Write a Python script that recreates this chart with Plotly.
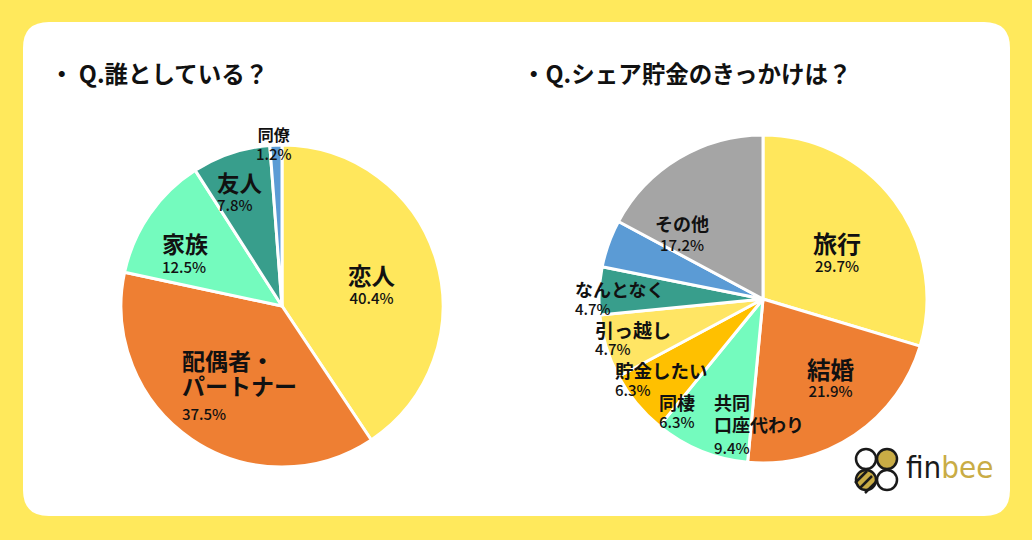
import math
import plotly.graph_objects as go

W, H = 1032, 540

# ---- data: 誰としている？
who_labels = ["恋人", "配偶者・<br>パートナー", "家族", "友人", "同僚"]
who_values = [40.4, 37.5, 12.5, 7.8, 1.2]

# ---- data: シェア貯金のきっかけは？
why_labels = ["旅行", "結婚", "共同<br>口座代わり", "同棲", "貯金したい",
              "引っ越し", "なんとなく", "その他"]
why_values = [29.7, 21.9, 9.4, 6.3, 6.3, 4.7, 4.7, 17.2]

# ---- style
BG = "#FFE95C"
FONT = "Noto Sans CJK JP"

who_colors = ["#FFE75C", "#EE7F33", "#74FBBE", "#389E8C", "#5B9BD5"]
who_lsize = [23.5, 23, 23, 22.5, 16]
who_psize = [15, 15, 15, 15, 15]
who_gap = [24, 25, 24, 23, 20]                   # line spacing, px
who_nudge = [4.9, 13.1, -12.1, -12.4, -0.6]      # degrees off slice middle
who_rfrac = [0.57, 0.86, 0.82, 0.81, 1.0]
who_anchor = ["center", "left", "left", "left", "center"]

why_colors = ["#FFE75C", "#EE7F33", "#74FBBE", "#FFC000", "#FFE564",
              "#389E8C", "#5B9BD5", "#A5A5A5"]
why_lsize = [24, 23.5, 18, 18, 18.5, 19, 18, 18]
why_psize = [15, 15, 15, 15, 15, 15, 15, 15]
why_gap = [24, 23, 22, 20, 20, 19, 20, 22]
why_nudge = [5.9, -5.7, -2.0, -7.6, -12.1, -16.5, -20.1, -21.2]
why_rfrac = [0.525, 0.65, 0.897, 0.949, 1.045, 1.066, 1.159, 0.626]
why_anchor = ["center", "center", "left", "left", "left", "left", "left", "center"]


def px(x):
    return x / W


def py(y):
    return 1 - y / H


def add_pie(fig, labels, values, colors, cx, cy, R, nudge, rfrac, anchor, lsize, psize, gap):
    fig.add_trace(go.Pie(
        labels=[l.replace("<br>", "") for l in labels],
        values=values,
        sort=False,
        direction="clockwise",
        rotation=0,
        marker=dict(colors=colors, line=dict(color="white", width=3)),
        textinfo="none",
        hovertemplate="%{label}<extra></extra>",
        showlegend=False,
        domain=dict(x=[px(cx - R), px(cx + R)], y=[py(cy + R), py(cy - R)]),
    ))
    total = sum(values)
    cum = 0
    for i, v in enumerate(values):
        mid = math.radians((cum + v / 2) / total * 360 + nudge[i])
        cum += v
        r = rfrac[i] * R
        x = cx + r * math.sin(mid)
        y = cy - r * math.cos(mid)
        # (x, y) is the seam between name and percentage
        lines = labels[i].split("<br>")
        nl = len(lines) + 1
        step = gap[i]
        if nl == 2:
            # big name glyphs sit higher over the baseline than the digits
            step = gap[i] - 0.55 * (lsize[i] - psize[i])
        yc = y - (nl - 2) / 2 * gap[i]
        name = "<br>".join("<span style='font-size:%spx'><b>%s</b></span>" % (lsize[i], s)
                           for s in lines)
        pct = "<span style='font-size:%spx'>%s%%</span>" % (psize[i], v)
        fig.add_annotation(x=px(x), y=py(yc), xref="paper", yref="paper",
                           text=name + "<br>" + pct, showarrow=False,
                           xanchor=anchor[i], yanchor="middle", align=anchor[i],
                           yshift=0.22 * lsize[i] - 1,
                           font=dict(family=FONT, size=step / 1.3, color="#111",
                                     weight=500))


def rounded_rect(x0, y0, x1, y1, rad):
    # path in paper coords, corners drawn with quadratic curves
    pts = [
        "M %f,%f" % (px(x0 + rad), py(y0)),
        "L %f,%f" % (px(x1 - rad), py(y0)),
        "Q %f,%f %f,%f" % (px(x1), py(y0), px(x1), py(y0 + rad)),
        "L %f,%f" % (px(x1), py(y1 - rad)),
        "Q %f,%f %f,%f" % (px(x1), py(y1), px(x1 - rad), py(y1)),
        "L %f,%f" % (px(x0 + rad), py(y1)),
        "Q %f,%f %f,%f" % (px(x0), py(y1), px(x0), py(y1 - rad)),
        "L %f,%f" % (px(x0), py(y0 + rad)),
        "Q %f,%f %f,%f" % (px(x0), py(y0), px(x0 + rad), py(y0)),
        "Z",
    ]
    return " ".join(pts)


fig = go.Figure()

fig.add_shape(type="path", path=rounded_rect(23, 22, 1010, 516, 26),
              xref="paper", yref="paper", fillcolor="white", line=dict(width=0),
              layer="below")

add_pie(fig, who_labels, who_values, who_colors, 282, 306, 161,
        who_nudge, who_rfrac, who_anchor, who_lsize, who_psize, who_gap)
add_pie(fig, why_labels, why_values, why_colors, 763, 299, 164,
        why_nudge, why_rfrac, why_anchor, why_lsize, why_psize, why_gap)

# titles
for tx, title in [(48, "・ Q.誰としている？"), (520, "・Q.シェア貯金のきっかけは？")]:
    fig.add_annotation(x=px(tx), y=py(73), xref="paper", yref="paper",
                       text="<b>%s</b>" % title, showarrow=False,
                       xanchor="left", yanchor="middle",
                       font=dict(family=FONT, size=23.5, color="#111"))

# finbee logo
GOLD = "#C9AC45"
for (ccx, ccy, fill) in [(866, 459, "white"), (887, 459, GOLD),
                         (866, 480, GOLD), (887, 480, "white")]:
    fig.add_shape(type="circle", xref="paper", yref="paper",
                  x0=px(ccx - 10), x1=px(ccx + 10), y0=py(ccy + 10), y1=py(ccy - 10),
                  fillcolor=fill, line=dict(color="#1a1a1a", width=2.5))
for k in (-5, 0, 5):
    fig.add_shape(type="line", xref="paper", yref="paper",
                  x0=px(860 + k), y0=py(488 + k), x1=px(872 + k), y1=py(476 + k),
                  line=dict(color="#1a1a1a", width=2.5))
fig.add_annotation(x=px(904), y=py(467), xref="paper", yref="paper",
                   text="<span style='color:#1a1a1a'>fin</span><span style='color:%s'>bee</span>" % GOLD,
                   showarrow=False, xanchor="left", yanchor="middle",
                   font=dict(family="Liberation Sans Narrow, DejaVu Sans Condensed, sans-serif", size=31))

fig.update_layout(
    width=W, height=H,
    margin=dict(l=0, r=0, t=0, b=0),
    paper_bgcolor=BG,
    plot_bgcolor=BG,
    font=dict(family=FONT),
)

fig.write_html("out.html", config={"displayModeBar": False},
               post_script="document.body.style.margin='0';")
